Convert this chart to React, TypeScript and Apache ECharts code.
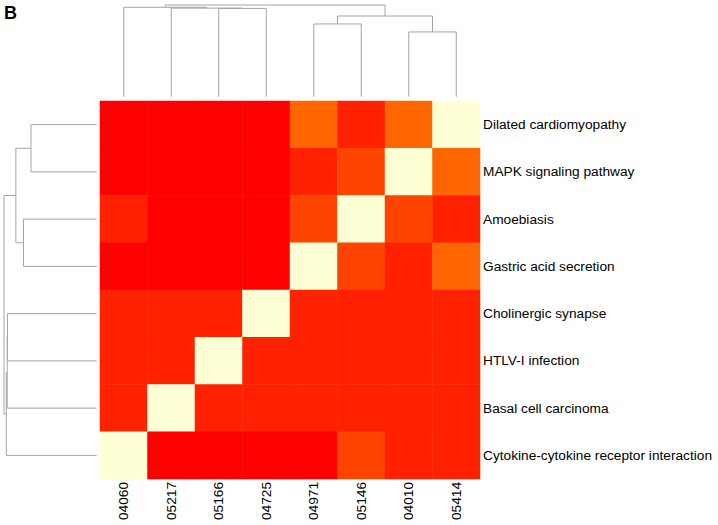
import React, { useEffect, useRef } from "react";
import * as echarts from "echarts";

const columns = ["04060", "05217", "05166", "04725", "04971", "05146", "04010", "05414"];
const rows = [
  "Dilated cardiomyopathy",
  "MAPK signaling pathway",
  "Amoebiasis",
  "Gastric acid secretion",
  "Cholinergic synapse",
  "HTLV-I infection",
  "Basal cell carcinoma",
  "Cytokine-cytokine receptor interaction",
];

// similarity level per cell (rows top->bottom, columns left->right)
const matrix = [
  [0, 0, 0, 0, 3, 1, 3, 4],
  [0, 0, 0, 0, 1, 2, 4, 3],
  [1, 0, 0, 0, 2, 4, 2, 1],
  [0, 0, 0, 0, 4, 2, 1, 3],
  [1, 1, 1, 4, 1, 1, 1, 1],
  [1, 1, 4, 1, 1, 1, 1, 1],
  [1, 4, 1, 1, 1, 1, 1, 1],
  [4, 0, 0, 0, 0, 2, 1, 1],
];

const levelColors = ["#FF0000", "#FF2100", "#FF4400", "#FF6500", "#FFFFD6"];

// hclust-style merges: negative = leaf (1-based display position), positive = earlier merge
const colMerge: [number, number, number][] = [
  [-3, -4, 0.963],
  [-2, 1, 0.966],
  [-1, 2, 0.975],
  [-5, -6, 0.793],
  [-7, -8, 0.706],
  [4, 5, 0.88],
  [3, 6, 1.0],
];
const rowMerge: [number, number, number][] = [
  [-1, -2, 0.709],
  [-3, -4, 0.79],
  [1, 2, 0.872],
  [-5, -6, 0.962],
  [4, -7, 0.965],
  [5, -8, 0.975],
  [3, 6, 1.0],
];

function segments(merge: [number, number, number][]) {
  const nodes: { pos: number; h: number }[] = [];
  const segs: number[][] = [];
  const get = (id: number) => (id < 0 ? { pos: -id - 1, h: 0 } : nodes[id - 1]);
  merge.forEach(([a, b, h]) => {
    const na = get(a);
    const nb = get(b);
    segs.push([na.pos, na.h, na.pos, h]);
    segs.push([na.pos, h, nb.pos, h]);
    segs.push([nb.pos, h, nb.pos, nb.h]);
    nodes.push({ pos: (na.pos + nb.pos) / 2, h });
  });
  return segs;
}

const FONT = "'Liberation Sans', Arial, Helvetica, sans-serif";
const LINE = "#a3a3a3";
const FS = 13.7;

export default function App() {
  const ref = useRef<HTMLDivElement>(null);
  useEffect(() => {
    document.body.style.margin = "0";
    if (!ref.current) return;
    const chart = echarts.init(ref.current, undefined, { renderer: "svg" });
    const heatData: number[][] = [];
    matrix.forEach((r, yi) => r.forEach((v, xi) => heatData.push([xi, yi, v])));
    const colSegs = segments(colMerge);
    const rowSegs = segments(rowMerge).map(([p1, h1, p2, h2]) => [h1, p1, h2, p2]);
    const renderSeg = (params: any, api: any) => {
      const a = api.coord([api.value(0), api.value(1)]);
      const b = api.coord([api.value(2), api.value(3)]);
      return {
        type: "line",
        shape: { x1: a[0], y1: a[1], x2: b[0], y2: b[1] },
        style: { stroke: LINE, lineWidth: 1 },
      };
    };
    chart.setOption({
      animation: false,
      textStyle: { fontFamily: FONT },
      grid: [
        { left: 100, top: 101, width: 380, height: 378 },
        { left: 100, top: 5, width: 380, height: 91.7 },
        { left: 4, top: 101, width: 92.7, height: 378 },
      ],
      xAxis: [
        {
          type: "category",
          gridIndex: 0,
          data: columns,
          position: "bottom",
          axisLine: { show: false },
          axisTick: { show: false },
          splitLine: { show: false },
          axisLabel: {
            rotate: 90,
            margin: 3,
            align: "right",
            verticalAlign: "middle",
            padding: [38, 0, 0, 0],
            color: "#000",
            fontSize: FS,
            fontFamily: FONT,
          },
        },
        { type: "value", gridIndex: 1, min: -0.5, max: 7.5, show: false },
        { type: "value", gridIndex: 2, min: 0, max: 1, inverse: true, show: false },
      ],
      yAxis: [
        {
          type: "category",
          gridIndex: 0,
          data: rows,
          inverse: true,
          position: "right",
          axisLine: { show: false },
          axisTick: { show: false },
          splitLine: { show: false },
          axisLabel: { margin: 3, color: "#000", fontSize: FS, fontFamily: FONT },
        },
        { type: "value", gridIndex: 1, min: 0, max: 1, show: false },
        { type: "value", gridIndex: 2, min: -0.5, max: 7.5, inverse: true, show: false },
      ],
      visualMap: {
        type: "piecewise",
        show: false,
        seriesIndex: 0,
        dimension: 2,
        pieces: levelColors.map((c, i) => ({ value: i, color: c })),
      },
      graphic: [
        {
          type: "text",
          left: 4,
          top: 4,
          style: { text: "B", font: `bold 18px ${FONT}`, fill: "#000" },
        },
      ],
      series: [
        {
          type: "heatmap",
          xAxisIndex: 0,
          yAxisIndex: 0,
          data: heatData,
          itemStyle: { borderWidth: 0 },
          emphasis: { disabled: true },
        },
        {
          type: "custom",
          xAxisIndex: 1,
          yAxisIndex: 1,
          data: colSegs,
          encode: { x: [0, 2], y: [1, 3] },
          renderItem: renderSeg,
          silent: true,
        },
        {
          type: "custom",
          xAxisIndex: 2,
          yAxisIndex: 2,
          data: rowSegs,
          encode: { x: [0, 2], y: [1, 3] },
          renderItem: renderSeg,
          silent: true,
        },
      ],
    });
    return () => chart.dispose();
  }, []);
  return <div ref={ref} style={{ width: 718, height: 525 }} />;
}
